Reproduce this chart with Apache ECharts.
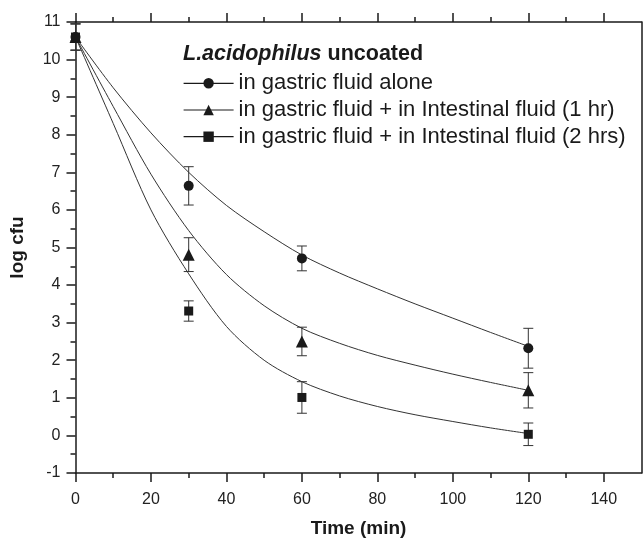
<!DOCTYPE html>
<html>
<head>
<meta charset="utf-8">
<script src="https://cdn.jsdelivr.net/npm/echarts@6/dist/echarts.min.js"></script>
<style>
html,body{margin:0;padding:0;background:#fff;}
#chart{width:643px;height:543px;}
</style>
</head>
<body>
<div id="chart"></div>
<script>
// ---- data ----
const times = [0, 30, 60, 120];
const seriesNames = [
  'in gastric fluid alone',
  'in gastric fluid + in Intestinal fluid (1 hr)',
  'in gastric fluid + in Intestinal fluid (2 hrs)'
];
const gastricAlone    = [10.6, 6.64, 4.71, 2.32];
const gastricAloneErr = [0.35, 0.51, 0.33, 0.53];
const intestinal1h    = [10.6, 4.81, 2.50, 1.20];
const intestinal1hErr = [0.35, 0.45, 0.38, 0.47];
const intestinal2h    = [10.6, 3.31, 1.01, 0.03];
const intestinal2hErr = [0.35, 0.27, 0.42, 0.30];

// fitted curves
const fitX     = [0, 10, 20, 30, 40, 50, 60, 70, 80, 90, 100, 110, 120];
const fitAlone = [10.6, 9.25, 8.05, 7.0, 6.12, 5.42, 4.8, 4.32, 3.9, 3.5, 3.12, 2.74, 2.37];
const fit1h    = [10.6, 8.75, 6.95, 5.45, 4.28, 3.45, 2.85, 2.45, 2.13, 1.87, 1.63, 1.41, 1.2];
const fit2h    = [10.6, 8.3, 6.0, 4.3, 2.9, 2.0, 1.43, 1.05, 0.77, 0.55, 0.37, 0.2, 0.05];

const xMajorTicks = [0, 20, 40, 60, 80, 100, 120, 140];
const xMinorTicks = [10, 30, 50, 70, 90, 110, 130];

const legendTitle = '{i|L.acidophilus} {b|uncoated}';
const xName = 'Time (min)';
const yName = 'log cfu';

// ---- chart ----
const INK = '#1a1a1a';
const FONT = "'Liberation Sans', Arial, sans-serif";
const chart = echarts.init(document.getElementById('chart'), null, {renderer: 'canvas'});

function pairs(xs, ys) { return xs.map((x, i) => [x, ys[i]]); }
function errData(vals, errs) { return times.map((t, i) => [t, vals[i] - errs[i], vals[i] + errs[i]]); }

function errorSeries(vals, errs) {
  return {
    type: 'custom',
    xAxisIndex: 0, yAxisIndex: 0,
    silent: true, z: 3,
    data: errData(vals, errs),
    renderItem: function (params, api) {
      const x = api.value(0);
      const lo = api.coord([x, api.value(1)]);
      const hi = api.coord([x, api.value(2)]);
      const hw = 5;
      const st = {stroke: '#333', lineWidth: 1};
      return {
        type: 'group',
        children: [
          {type: 'line', shape: {x1: lo[0], y1: lo[1], x2: hi[0], y2: hi[1]}, style: st},
          {type: 'line', shape: {x1: hi[0] - hw, y1: hi[1], x2: hi[0] + hw, y2: hi[1]}, style: st},
          {type: 'line', shape: {x1: lo[0] - hw, y1: lo[1], x2: lo[0] + hw, y2: lo[1]}, style: st}
        ]
      };
    }
  };
}
function fitSeries(ys) {
  return {
    type: 'line', xAxisIndex: 0, yAxisIndex: 0,
    data: pairs(fitX, ys), smooth: 0.3, showSymbol: false, silent: true, z: 2,
    lineStyle: {color: '#333', width: 1}
  };
}
function markerSeries(name, vals, symbol, size) {
  return {
    name: name, type: 'line', xAxisIndex: 0, yAxisIndex: 0,
    data: pairs(times, vals), symbol: symbol, symbolSize: size, showSymbol: true,
    itemStyle: {color: INK}, lineStyle: {opacity: 0, width: 0}, z: 5, silent: true
  };
}

const axisLineStyle = {color: INK, width: 1.5};
const baseX = {type: 'value', min: 0, max: 150, interval: 10, splitLine: {show: false}};

const option = {
  animation: false,
  textStyle: {fontFamily: FONT, color: INK},
  grid: {left: 75.5, right: 1.5, top: 22, bottom: 66.3, containLabel: false},
  title: {
    text: legendTitle, left: 183, top: 43, padding: 0,
    textStyle: {
      fontSize: 21.5, color: INK, fontFamily: FONT,
      rich: {
        i: {fontStyle: 'italic', fontWeight: 'bold', fontSize: 21.5, fontFamily: FONT, color: INK},
        b: {fontWeight: 'bold', fontSize: 21.5, fontFamily: FONT, color: INK}
      }
    }
  },
  legend: {
    orient: 'vertical', left: 183, top: 72.3, padding: 0,
    itemWidth: 50, itemHeight: 13, itemGap: 4.7,
    data: seriesNames,
    lineStyle: {color: INK, width: 1.2, opacity: 1},
    textStyle: {fontSize: 22, lineHeight: 22, color: INK, fontFamily: FONT},
    selectedMode: false
  },
  xAxis: [
    Object.assign({}, baseX, {
      position: 'bottom',
      axisLine: {show: true, onZero: false, lineStyle: axisLineStyle},
      axisTick: {show: true, customValues: xMajorTicks, length: 9, lineStyle: {color: INK, width: 1.5}},
      axisLabel: {show: true, customValues: xMajorTicks, fontSize: 16, margin: 19, color: '#222', fontFamily: FONT},
      name: xName, nameLocation: 'middle', nameGap: 46,
      nameTextStyle: {fontSize: 19, fontWeight: 'bold', color: INK, fontFamily: FONT}
    }),
    Object.assign({}, baseX, {
      position: 'bottom',
      axisLine: {show: false, onZero: false},
      axisTick: {show: true, customValues: xMinorTicks, length: 5, lineStyle: {color: INK, width: 1.5}},
      axisLabel: {show: false}
    }),
    Object.assign({}, baseX, {
      position: 'top',
      axisLine: {show: true, onZero: false, lineStyle: axisLineStyle},
      axisTick: {show: true, customValues: xMajorTicks, length: 9, lineStyle: {color: INK, width: 1.5}},
      axisLabel: {show: false}
    }),
    Object.assign({}, baseX, {
      position: 'top',
      axisLine: {show: false, onZero: false},
      axisTick: {show: true, customValues: xMinorTicks, length: 5, lineStyle: {color: INK, width: 1.5}},
      axisLabel: {show: false}
    })
  ],
  yAxis: [
    {
      type: 'value', position: 'left', min: -1, max: 11, interval: 1,
      splitLine: {show: false},
      axisLine: {show: true, onZero: false, lineStyle: axisLineStyle},
      axisTick: {show: true, length: 9, lineStyle: {color: INK, width: 1.5}},
      minorTick: {show: true, splitNumber: 2, length: 5, lineStyle: {color: INK, width: 1.5}},
      minorSplitLine: {show: false},
      axisLabel: {fontSize: 16, margin: 15, color: '#222', fontFamily: FONT},
      name: yName, nameLocation: 'middle', nameGap: 48, nameRotate: 90,
      nameTextStyle: {fontSize: 19, fontWeight: 'bold', color: INK, fontFamily: FONT}
    },
    {
      type: 'value', position: 'right', min: -1, max: 11, interval: 1,
      splitLine: {show: false},
      axisLine: {show: true, onZero: false, lineStyle: axisLineStyle},
      axisTick: {show: false}, axisLabel: {show: false}
    }
  ],
  series: [
    fitSeries(fitAlone), fitSeries(fit1h), fitSeries(fit2h),
    errorSeries(gastricAlone, gastricAloneErr),
    errorSeries(intestinal1h, intestinal1hErr),
    errorSeries(intestinal2h, intestinal2hErr),
    markerSeries(seriesNames[0], gastricAlone, 'circle', 10),
    markerSeries(seriesNames[1], intestinal1h, 'triangle', 12),
    markerSeries(seriesNames[2], intestinal2h, 'rect', 9)
  ]
};
chart.setOption(option);
</script>
</body>
</html>
